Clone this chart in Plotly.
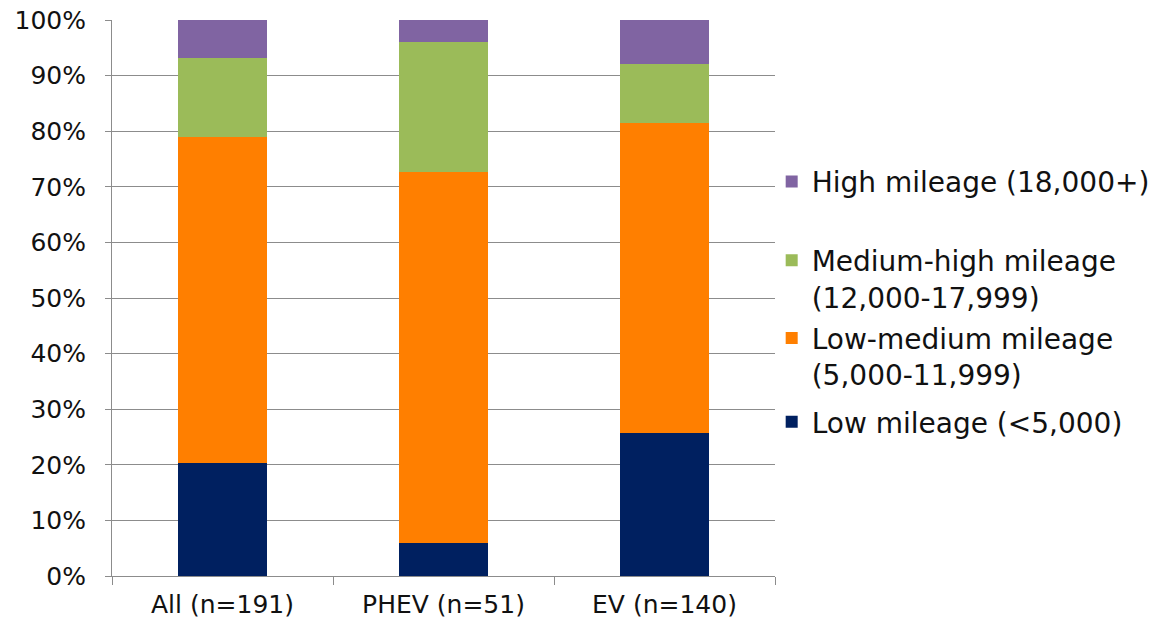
import plotly.graph_objects as go

categories = ["All (n=191)", "PHEV (n=51)", "EV (n=140)"]
series_names = [
    "Low mileage (<5,000)",
    "Low-medium mileage<br>(5,000-11,999)",
    "Medium-high mileage<br>(12,000-17,999)",
    "High mileage (18,000+)",
]
low = [20.4, 5.9, 25.7]
low_medium = [58.6, 66.7, 55.7]
medium_high = [14.1, 23.5, 10.7]
high = [6.9, 3.9, 7.9]
colors = ["#002060", "#FF7F00", "#9BBB59", "#8064A2"]

values = [low, low_medium, medium_high, high]
legend_ids = ["legend", "legend2", "legend3", "legend4"]
# vertical centres (paper fraction) of each legend entry
legend_y = [0.277, 0.395, 0.535, 0.709]

fig = go.Figure()
for name, vals, col, lid in zip(series_names, values, colors, legend_ids):
    fig.add_trace(go.Bar(
        x=categories, y=vals, name=name,
        marker=dict(color=col, line=dict(width=0)),
        legend=lid,
    ))

grid = "#8C8C8C"
legend_common = dict(
    x=0.995, xanchor="left", yanchor="middle",
    font=dict(size=28), itemwidth=30, bgcolor="rgba(0,0,0,0)", valign="top",
)
layout_legends = {lid: dict(legend_common, y=yy) for lid, yy in zip(legend_ids, legend_y)}

fig.update_layout(
    barmode="stack",
    bargap=0.6,
    width=1166, height=628,
    margin=dict(l=112, r=391, t=20, b=52, autoexpand=False),
    paper_bgcolor="white", plot_bgcolor="white",
    font=dict(family="DejaVu Sans, Verdana, sans-serif", size=25, color="#111111"),
    showlegend=True,
    xaxis=dict(
        showline=True, linecolor=grid, linewidth=1,
        ticks="outside", tickson="boundaries", ticklen=8, tickcolor=grid,
        showgrid=False, tickfont=dict(size=25), automargin=False,
        ticklabelstandoff=6,
    ),
    yaxis=dict(
        range=[0, 100], dtick=10, ticksuffix="%",
        showline=True, linecolor=grid, linewidth=1,
        ticks="outside", ticklen=6, tickcolor=grid,
        showgrid=True, gridcolor=grid, gridwidth=1,
        zeroline=False, tickfont=dict(size=25), automargin=False,
        ticklabelstandoff=14,
    ),
    **layout_legends,
)

fig.write_html(
    "out.html",
    config={"displayModeBar": False},
    post_script="document.body.style.margin='0';document.body.style.overflow='hidden';",
)
